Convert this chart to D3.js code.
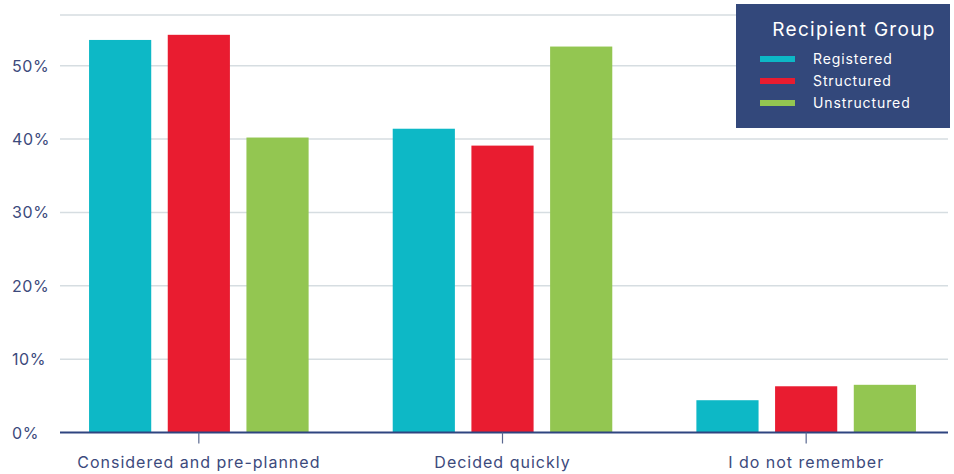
<!DOCTYPE html>
<html><head><meta charset="utf-8">
<script src="https://cdn.jsdelivr.net/npm/d3@7"></script>
<style>body{margin:0;background:#fff;} svg{display:block;font-family:Inter,"Open Sans",sans-serif;}</style>
</head><body><svg id="c" width="954" height="474"></svg>
<script>
const categories = ["Considered and pre-planned", "Decided quickly", "I do not remember"];
const seriesNames = ["Registered", "Structured", "Unstructured"];
const registered = [0.535, 0.414, 0.044];
const structured = [0.542, 0.391, 0.063];
const unstructured = [0.402, 0.526, 0.065];
const yTicks = [0, 0.1, 0.2, 0.3, 0.4, 0.5];
const colors = ["#0db8c6", "#e91c30", "#93c651"];

const series = [registered, structured, unstructured];
const svg = d3.select("#c");
const y = d3.scaleLinear().domain([0, 0.569]).range([432.5, 15]);
const x = d3.scaleBand().domain(categories).range([47, 958]);
const xs = d3.scaleBand().domain(seriesNames).range([-114.5, 114.5]).paddingInner(0.21).paddingOuter(0.06);

// gridlines
svg.append("g").selectAll("line").data(yTicks.concat([0.569]).filter(d=>d>0)).join("line")
  .attr("x1", 60).attr("x2", 948).attr("y1", d=>y(d)).attr("y2", d=>y(d))
  .attr("stroke", "#d6dde1").attr("stroke-width", 1.5);

// y labels
svg.append("g").selectAll("text").data(yTicks).join("text")
  .attr("x", 12).attr("y", d=>y(d)+6).text(d3.format(".0%"))
  .attr("fill", "#3c4a7c").attr("font-size", 16).attr("letter-spacing", 0.6);

// bars
const g = svg.append("g");
categories.forEach((c, i) => {
  g.selectAll(null).data(series.map((s, k) => ({k, v: s[i]}))).join("rect")
    .attr("x", d => x(c) + x.bandwidth()/2 + xs(seriesNames[d.k]))
    .attr("width", xs.bandwidth())
    .attr("y", d => y(d.v)).attr("height", d => y(0) - y(d.v))
    .attr("fill", d => colors[d.k]);
});

// x axis
svg.append("line").attr("x1", 60).attr("x2", 948).attr("y1", y(0)).attr("y2", y(0))
  .attr("stroke", "#2f4580").attr("stroke-width", 2);
svg.append("g").selectAll("line").data(categories).join("line")
  .attr("x1", d => x(d)+x.bandwidth()/2).attr("x2", d => x(d)+x.bandwidth()/2)
  .attr("y1", y(0)).attr("y2", y(0)+11).attr("stroke", "#5a6890").attr("stroke-width", 1.2);
svg.append("g").selectAll("text").data(categories).join("text")
  .attr("x", d => x(d)+x.bandwidth()/2).attr("y", 468).attr("text-anchor", "middle")
  .attr("fill", "#3c4a7c").attr("font-size", 16).attr("letter-spacing", 1).text(d => d);

// legend
const lg = svg.append("g");
lg.append("rect").attr("x", 736).attr("y", 4).attr("width", 214).attr("height", 124).attr("fill", "#33487b");
lg.append("text").attr("x", 854).attr("y", 36).attr("text-anchor", "middle").attr("fill", "#fff")
  .attr("font-size", 19).attr("letter-spacing", 1.3).text("Recipient Group");
seriesNames.forEach((n, k) => {
  lg.append("rect").attr("x", 760).attr("y", 56 + k*22).attr("width", 35).attr("height", 6).attr("fill", colors[k]);
  lg.append("text").attr("x", 813).attr("y", 64 + k*22).attr("fill", "#fff").attr("font-size", 14)
    .attr("letter-spacing", 0.9).text(n);
});
</script></body></html>
